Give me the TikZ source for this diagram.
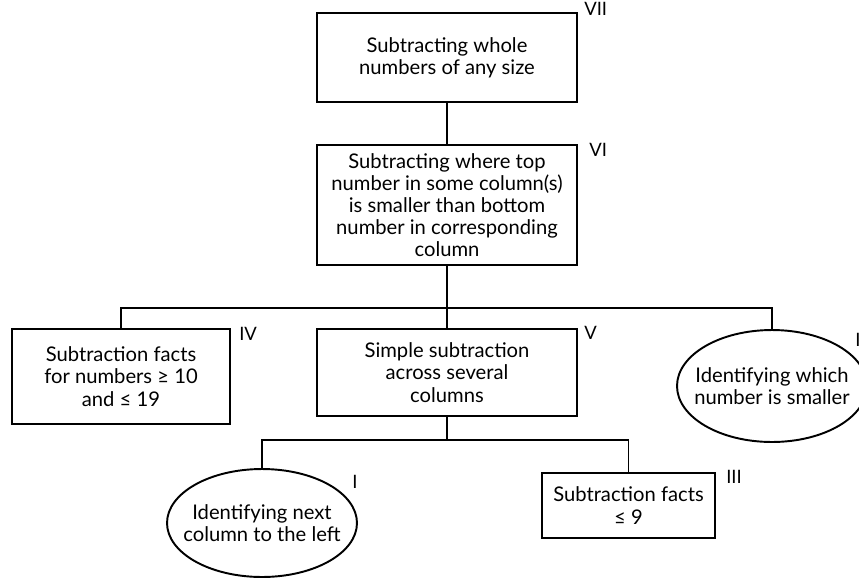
\documentclass[tikz,border=0pt]{standalone}
\usepackage{fontspec}
\setmainfont{Lato}
\usetikzlibrary{positioning,shapes.geometric,calc}
\tikzset{
  box/.style={draw=black, line width=1.1pt, align=center, inner sep=1mm,
              font=\fontsize{11.5}{12.6}\selectfont},
  wide/.style={box, minimum width=5.2cm},
  oval/.style={box, ellipse, inner xsep=-3mm, minimum width=3.8cm},
  tag/.style={font=\fontsize{10.5}{11}\selectfont, inner sep=0pt, anchor=north west},
  link/.style={line width=0.7pt},
}

\begin{document}
\begin{tikzpicture}[x=0.02cm, y=-0.02cm]
  \useasboundingbox (0,0) rectangle (859,579);
  \node[wide, minimum height=1.78cm] (vii) at (447,57.5) {Subtracting whole\\numbers of any size};
  \node[wide, minimum height=2.4cm] (vi) at (447,205) {Subtracting where top\\number in some column(s)\\is smaller than bottom\\number in corresponding\\column};
  \node[wide, minimum height=1.74cm] (v) at (447,372.5) {Simple subtraction\\across several\\columns};
  \node[box, minimum width=4.36cm, minimum height=1.9cm] (iv) at (121,376.5) {Subtraction facts\\for numbers ≥ 10\\and ≤ 19};
  \node[oval, minimum height=2.24cm] (ii) at (772,386) {Identifying which\\number is smaller};
  \node[oval, minimum height=2.16cm] (i) at (262,523) {Identifying next\\column to the left};
  \node[box, minimum width=3.46cm, minimum height=1.3cm] (iii) at (628.5,505.5) {Subtraction facts\\≤ 9};
  % level numbers
  \node[tag] at ([shift={(6,-10)}]vii.north east) {VII};
  \node[tag] at ([shift={(11,-1)}]vi.north east) {VI};
  \node[tag] at ([shift={(6,-2)}]v.north east) {V};
  \node[tag] at ([shift={(8,-1)}]iv.north east) {IV};
  \node[tag] at ([shift={(10,-2)}]iii.north east) {III};
  \node[tag] at ([shift={(90,-48)}]i.center) {I};
  \node[tag] at ([shift={(83,-53)}]ii.center) {II};
  % connectors
  \coordinate (upbus) at (v.north |- 0,308);
  \coordinate (lowbus) at (v.south |- 0,440);
  \draw[link] (vii.south) -- (vi.north);
  \draw[link] (vi.south) -- (v.north);
  \draw[link] (iv.north) |- (upbus) -| (ii.north);
  \draw[link] (v.south) -- (lowbus);
  \draw[link] (i.north) |- (lowbus) -| (iii.north);
\end{tikzpicture}
\end{document}
